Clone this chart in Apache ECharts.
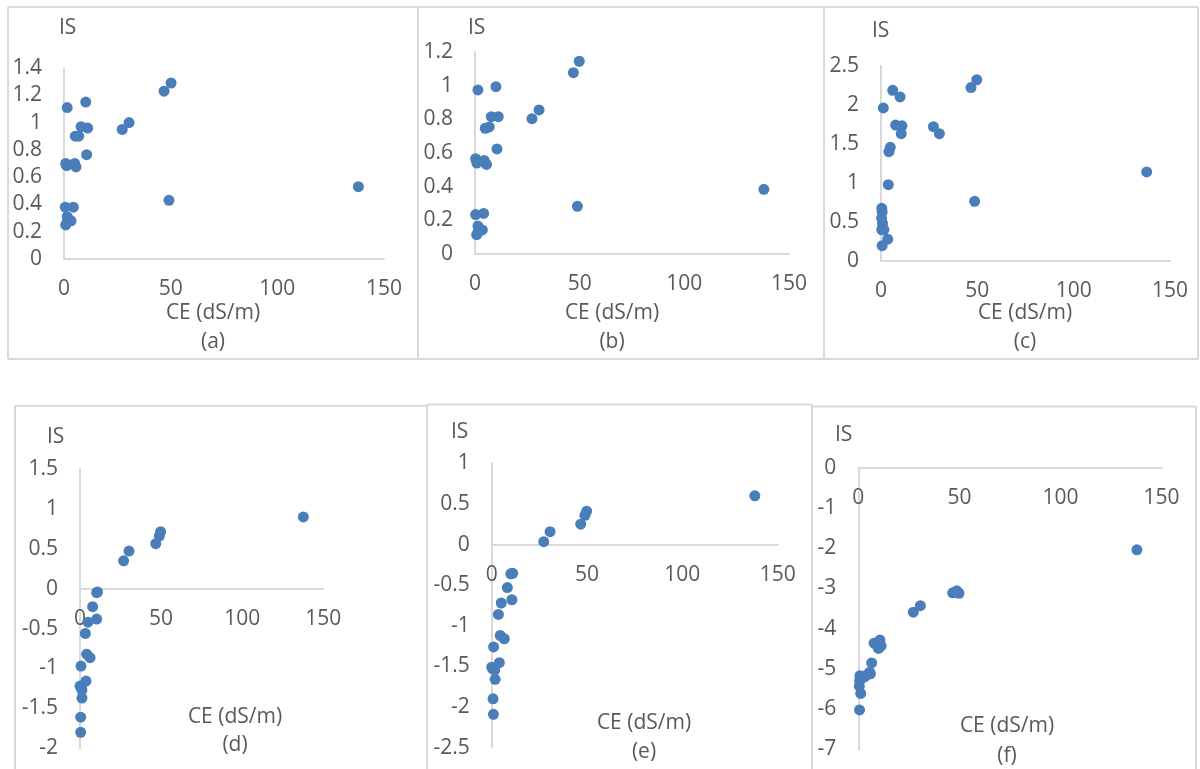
<!DOCTYPE html>
<html>
<head>
<meta charset="utf-8">
<script src="https://cdn.jsdelivr.net/npm/echarts@6/dist/echarts.min.js"></script>
<style>
  html, body { margin: 0; padding: 0; background: #fff; }
  #chartData { width: 1200px; height: 769px; }
</style>
</head>
<body>
<div id="chartData"></div>
<script>
var ceA = [1.5, 10.2, 46.9, 50.2, 30.5, 27.3, 8, 11.1, 5.3, 6.9, 10.6, 0.8, 1.2, 5, 5.6, 138, 49.2, 0.6, 4.4, 1.5, 3.3, 0.8, 1.7];
var isA = [1.11, 1.15, 1.23, 1.29, 1.0, 0.95, 0.97, 0.96, 0.90, 0.90, 0.765, 0.70, 0.685, 0.70, 0.675, 0.53, 0.43, 0.38, 0.38, 0.31, 0.28, 0.25, 0.28];

var ceB = [49.8, 47, 1.4, 10, 30.6, 27.2, 7.8, 11.1, 4.9, 6.8, 10.5, 0.3, 0.9, 4.4, 5.5, 138, 48.9, 0.3, 4.1, 1.4, 3.5, 0.8, 1.5];
var isB = [1.145, 1.077, 0.975, 0.994, 0.856, 0.804, 0.816, 0.816, 0.747, 0.755, 0.624, 0.566, 0.54, 0.556, 0.532, 0.384, 0.283, 0.234, 0.241, 0.166, 0.143, 0.115, 0.13];

var ceC = [49.7, 46.7, 6.1, 9.9, 1.2, 7.6, 10.9, 27.2, 30.3, 10.5, 4.8, 4.1, 137.9, 3.8, 48.6, 0.4, 0.6, 0.3, 0.8, 0.4, 1.5, 3.5, 0.6];
var isC = [2.32, 2.22, 2.185, 2.10, 1.96, 1.74, 1.73, 1.72, 1.63, 1.63, 1.455, 1.40, 1.14, 0.977, 0.764, 0.675, 0.63, 0.547, 0.48, 0.40, 0.40, 0.28, 0.196];

var ceD = [137.7, 49.7, 48.9, 46.7, 30.2, 26.9, 10.3, 10.8, 7.8, 10.3, 4.9, 3.3, 4.1, 6.2, 0.6, 3.7, 0, 1.2, 1.2, 0.4, 0.4, 0.8];
var isD = [0.90, 0.714, 0.66, 0.564, 0.472, 0.35, -0.05, -0.04, -0.225, -0.38, -0.42, -0.56, -0.82, -0.865, -0.97, -1.157, -1.22, -1.27, -1.37, -1.61, -1.80, -1.24];

var ceE = [138, 49.8, 48.9, 46.7, 30.6, 27.3, 11, 10, 8.2, 10.6, 5.0, 3.5, 4.5, 6.6, 1.0, 4.0, 0, 1.6, 1.8, 0.7, 0.9, 0.5];
var isE = [0.60, 0.41, 0.36, 0.25, 0.158, 0.035, -0.355, -0.36, -0.53, -0.68, -0.72, -0.86, -1.12, -1.16, -1.26, -1.455, -1.51, -1.545, -1.66, -1.90, -2.09, -1.53];

var ceF = [137.8, 46.7, 48.7, 49.8, 30.7, 27.2, 10.7, 7.8, 10, 11.3, 9.1, 6.6, 5.6, 4.2, 3.1, 0.8, 0.7, 0.5, 1.2, 0.6, 6];
var isF = [-2.04, -3.11, -3.06, -3.12, -3.43, -3.59, -4.28, -4.36, -4.49, -4.43, -4.41, -4.85, -5.08, -5.15, -5.2, -5.17, -5.29, -5.43, -5.61, -6.02, -5.12];

var xTicks = [0, 50, 100, 150];
var panelTags = ['(a)', '(b)', '(c)', '(d)', '(e)', '(f)'];

function pairs(xs, ys) {
    var out = [];
    for (var i = 0; i < xs.length; i++) out.push([xs[i], ys[i]]);
    return out;
}

var txtColor = '#595959';
var lineColor = '#d9d9d9';
var font = '"Open Sans", "Noto Sans", sans-serif';
var fs = 21;

// panel layout: plot box and y range
var panels = [
    { left: 64,    top: 68,    width: 320,   height: 191,   ymin: 0,    ymax: 1.4, step: 0.2, data: pairs(ceA, isA) },
    { left: 475,   top: 52,    width: 314,   height: 202,   ymin: 0,    ymax: 1.2, step: 0.2, data: pairs(ceB, isB) },
    { left: 881,   top: 65.7,  width: 289,   height: 195.3, ymin: 0,    ymax: 2.5, step: 0.5, data: pairs(ceC, isC) },
    { left: 80,    top: 469,   width: 243.3, height: 279.3, ymin: -2,   ymax: 1.5, step: 0.5, data: pairs(ceD, isD) },
    { left: 491.7, top: 463.3, width: 286,   height: 284.3, ymin: -2.5, ymax: 1,   step: 0.5, data: pairs(ceE, isE) },
    { left: 858.3, top: 467.7, width: 303.3, height: 281.7, ymin: -7,   ymax: 0,   step: 1,   data: pairs(ceF, isF) }
];

// text positions (IS label, CE label, tag)
var textPos = [
    { is: [59, 28],    ce: [213, 313],  tag: [213, 342] },
    { is: [468, 28],   ce: [612, 313],  tag: [612, 342] },
    { is: [872, 31],   ce: [1025, 313], tag: [1025, 342] },
    { is: [47, 437],   ce: [235, 717],  tag: [235, 745] },
    { is: [451, 432],  ce: [644, 723],  tag: [644, 752] },
    { is: [835, 435],  ce: [1007, 726], tag: [1007, 756] }
];

var grids = [], xAxes = [], yAxes = [], series = [], graphics = [];

panels.forEach(function (p, i) {
    grids.push({ left: p.left, top: p.top, width: p.width, height: p.height, containLabel: false });
    // x axis sits on IS = 0, labels just under it
    var shift = p.ymin < 0 ? -p.height * (-p.ymin) / (p.ymax - p.ymin) : 0;
    xAxes.push({
        type: 'value', gridIndex: i, min: 0, max: xTicks[xTicks.length - 1], interval: 50,
        position: 'bottom', offset: shift,
        axisLine: { onZero: false, lineStyle: { color: lineColor, width: 2 } },
        axisTick: { show: false },
        splitLine: { show: false },
        axisLabel: { color: txtColor, fontSize: fs, fontFamily: font, margin: 20 }
    });
    yAxes.push({
        type: 'value', gridIndex: i, min: p.ymin, max: p.ymax, interval: p.step,
        axisLine: { show: true, onZero: false, lineStyle: { color: lineColor, width: 2 } },
        axisTick: { show: false },
        splitLine: { show: false },
        axisLabel: { color: txtColor, fontSize: fs, fontFamily: font, margin: 22 }
    });
    series.push({
        type: 'scatter', xAxisIndex: i, yAxisIndex: i,
        symbolSize: 11,
        itemStyle: { color: '#4a7ebb', opacity: 1 },
        data: p.data
    });
    var t = textPos[i];
    graphics.push({ type: 'text', x: t.is[0], y: t.is[1],
        style: { text: 'IS', fill: txtColor, font: fs + 'px ' + font, textVerticalAlign: 'middle' } });
    graphics.push({ type: 'text', x: t.ce[0], y: t.ce[1],
        style: { text: 'CE (dS/m)', fill: txtColor, font: fs + 'px ' + font, textAlign: 'center', textVerticalAlign: 'middle' } });
    graphics.push({ type: 'text', x: t.tag[0], y: t.tag[1],
        style: { text: panelTags[i], fill: txtColor, font: fs + 'px ' + font, textAlign: 'center', textVerticalAlign: 'middle' } });
});

// panel frames
function seg(x1, y1, x2, y2) {
    return { type: 'line', shape: { x1: x1, y1: y1, x2: x2, y2: y2 },
        style: { stroke: lineColor, lineWidth: 2 }, silent: true };
}
graphics.push(seg(8, 7, 1198, 7), seg(8, 359, 1198, 359), seg(8, 7, 8, 359),
    seg(418, 7, 418, 359), seg(824, 7, 824, 359), seg(1198, 7, 1198, 359));
graphics.push(seg(15, 405.7, 427, 405.7), seg(15, 405.7, 15, 769),
    seg(427, 404.5, 812, 404.5), seg(427, 404.5, 427, 769),
    seg(812, 406.5, 1196, 406.5), seg(812, 404.5, 812, 769), seg(1196, 406.5, 1196, 769));

var myChart = echarts.init(document.getElementById('chartData'));
myChart.setOption({
    animation: false,
    backgroundColor: '#fff',
    grid: grids,
    xAxis: xAxes,
    yAxis: yAxes,
    series: series,
    graphic: graphics
});
</script>
</body>
</html>
